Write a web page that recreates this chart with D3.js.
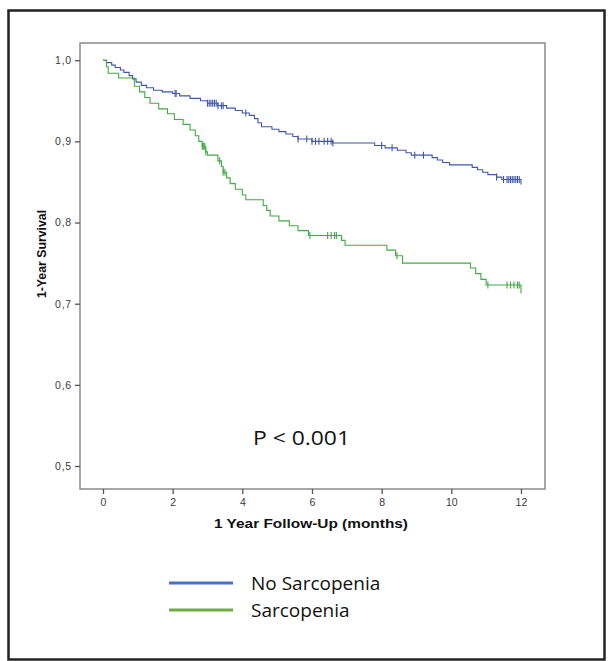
<!DOCTYPE html>
<html>
<head>
<meta charset="utf-8">
<script src="https://cdn.jsdelivr.net/npm/d3@7"></script>
<style>
  html, body { margin: 0; padding: 0; background: #fff; }
  svg { display: block; }
</style>
</head>
<body>
<svg id="chart" width="611" height="661"></svg>
<script>
// ---------------- data ----------------
const seriesNames = ["No Sarcopenia", "Sarcopenia"];
const xTicks = [0, 2, 4, 6, 8, 10, 12];
const yTicks = [0.5, 0.6, 0.7, 0.8, 0.9, 1.0];
const yTickLabels = ["0,5", "0,6", "0,7", "0,8", "0,9", "1,0"];

// No Sarcopenia: step points [time (months), survival after event]
const noSarcTimes = [0, 0.1, 0.25, 0.35, 0.5, 0.6, 0.75, 0.85, 0.95, 1.1, 1.25, 1.45, 1.7, 2.0, 2.2, 2.5, 2.8, 3.0, 3.3, 3.55, 3.8, 4.0, 4.2, 4.35, 4.45, 4.55, 4.85, 5.05, 5.25, 5.45, 5.6, 6.0, 6.6, 7.8, 8.1, 8.45, 8.7, 8.85, 9.45, 9.6, 9.75, 9.95, 10.6, 10.75, 10.9, 11.05, 11.3, 11.45, 12.0];
const noSarcSurv  = [1.0, 0.997, 0.994, 0.991, 0.988, 0.985, 0.981, 0.977, 0.973, 0.969, 0.966, 0.963, 0.961, 0.959, 0.956, 0.953, 0.950, 0.947, 0.944, 0.941, 0.938, 0.935, 0.932, 0.928, 0.923, 0.918, 0.915, 0.912, 0.909, 0.906, 0.903, 0.900, 0.898, 0.895, 0.892, 0.889, 0.886, 0.883, 0.880, 0.877, 0.874, 0.871, 0.868, 0.865, 0.862, 0.859, 0.856, 0.853, 0.847];
const noSarcCensor = [2.07, 2.1, 3.0, 3.05, 3.1, 3.15, 3.2, 3.25, 3.3, 3.4, 3.45, 4.1, 5.6, 5.85, 6.0, 6.1, 6.2, 6.35, 6.45, 6.55, 6.6, 8.0, 8.3, 8.95, 9.2, 11.3, 11.5, 11.6, 11.65, 11.7, 11.75, 11.8, 11.85, 11.9, 11.95];

// Sarcopenia
const sarcTimes = [0, 0.1, 0.15, 0.45, 0.9, 1.05, 1.2, 1.35, 1.6, 1.85, 2.05, 2.3, 2.5, 2.65, 2.75, 2.85, 2.95, 3.0, 3.3, 3.4, 3.45, 3.55, 3.65, 3.8, 4.0, 4.1, 4.6, 4.7, 4.8, 5.05, 5.35, 5.6, 5.9, 6.85, 6.95, 8.15, 8.4, 8.6, 10.55, 10.7, 10.85, 11.0, 12.0];
const sarcSurv  = [1.0, 0.992, 0.984, 0.978, 0.968, 0.961, 0.954, 0.947, 0.940, 0.934, 0.927, 0.921, 0.914, 0.907, 0.900, 0.894, 0.887, 0.883, 0.876, 0.869, 0.862, 0.855, 0.848, 0.841, 0.834, 0.828, 0.821, 0.815, 0.808, 0.802, 0.796, 0.790, 0.784, 0.778, 0.772, 0.766, 0.759, 0.750, 0.744, 0.737, 0.730, 0.723, 0.713];
const sarcCensor = [2.85, 2.88, 2.92, 2.95, 3.35, 3.45, 3.5, 5.94, 6.45, 6.55, 6.65, 6.7, 8.44, 11.05, 11.6, 11.7, 11.8, 11.9, 11.95];

const lineColors = ["#4157aa", "#41aa45"];
const legendColors = ["#4472c4", "#70ad47"];

// ---------------- drawing ----------------
const svg = d3.select("#chart");

// outer border
svg.append("rect")
  .attr("x", 8.5).attr("y", 10.5).attr("width", 596).attr("height", 649)
  .attr("fill", "none").attr("stroke", "#222").attr("stroke-width", 2.5);

const frame = {left: 80, top: 43, right: 545, bottom: 489};

const x = d3.scaleLinear().domain([-0.66, 12.69]).range([frame.left, frame.right]);
const y = d3.scaleLinear().domain([0.4717, 1.0212]).range([frame.bottom, frame.top]);

// plot frame
svg.append("rect")
  .attr("x", frame.left).attr("y", frame.top)
  .attr("width", frame.right - frame.left).attr("height", frame.bottom - frame.top)
  .attr("fill", "none").attr("stroke", "#8a8a8a").attr("stroke-width", 1.5);

const tickFont = "Liberation Sans, Arial, sans-serif";

// y axis
const yAxis = d3.axisLeft(y).tickValues(yTicks).tickSize(5).tickPadding(3)
  .tickFormat((d, i) => yTickLabels[i]);
const yg = svg.append("g").attr("transform", `translate(${frame.left},0)`).call(yAxis);
yg.select(".domain").remove();
yg.selectAll(".tick line").attr("stroke", "#555").attr("stroke-width", 1.3);
yg.selectAll(".tick text").attr("fill", "#3a3a3a").style("font-family", tickFont)
  .style("font-size", "10.5px").style("letter-spacing", "0.8px");

// x axis
const xAxis = d3.axisBottom(x).tickValues(xTicks).tickSize(5).tickPadding(5);
const xg = svg.append("g").attr("transform", `translate(0,${frame.bottom})`).call(xAxis);
xg.select(".domain").remove();
xg.selectAll(".tick line").attr("stroke", "#555").attr("stroke-width", 1.3);
xg.selectAll(".tick text").attr("fill", "#3a3a3a").style("font-family", tickFont)
  .style("font-size", "10.5px");

// axis titles
svg.append("text")
  .attr("x", 214).attr("y", 528)
  .attr("textLength", 194).attr("lengthAdjust", "spacingAndGlyphs")
  .style("font-family", tickFont)
  .style("font-size", "13px").style("font-weight", "bold").attr("fill", "#111")
  .text("1 Year Follow-Up (months)");

svg.append("text")
  .attr("transform", `translate(45.5,254) rotate(-90)`)
  .attr("text-anchor", "middle")
  .style("font-family", tickFont)
  .style("font-size", "12.3px").style("font-weight", "bold").attr("fill", "#111")
  .text("1-Year Survival");

// curves
const series = [
  {times: noSarcTimes, surv: noSarcSurv, censor: noSarcCensor},
  {times: sarcTimes, surv: sarcSurv, censor: sarcCensor}
];

const line = d3.line().x(d => x(d[0])).y(d => y(d[1])).curve(d3.curveStepAfter);

function survAt(s, t) {
  let v = 1.0;
  for (let i = 0; i < s.times.length; i++) if (s.times[i] <= t) v = s.surv[i];
  return v;
}

series.forEach((s, k) => {
  const pts = s.times.map((t, i) => [t, s.surv[i]]);
  svg.append("path")
    .datum(pts)
    .attr("d", line)
    .attr("fill", "none")
    .attr("stroke", lineColors[k])
    .attr("stroke-width", 1.1);
  svg.append("g").selectAll("line")
    .data(s.censor)
    .join("line")
    .attr("x1", t => x(t)).attr("x2", t => x(t))
    .attr("y1", t => y(survAt(s, t)) - 3.5)
    .attr("y2", t => y(survAt(s, t)) + 3.5)
    .attr("stroke", lineColors[k])
    .attr("stroke-width", 1.1);
});

// p-value
svg.append("text")
  .attr("x", 253).attr("y", 445)
  .attr("textLength", 97).attr("lengthAdjust", "spacingAndGlyphs")
  .style("font-family", "Open Sans, Noto Sans, sans-serif")
  .style("font-size", "20px").attr("fill", "#111")
  .text("P < 0.001");

// legend
const legY = [583, 610];
seriesNames.forEach((name, i) => {
  svg.append("line")
    .attr("x1", 169).attr("x2", 233)
    .attr("y1", legY[i]).attr("y2", legY[i])
    .attr("stroke", legendColors[i]).attr("stroke-width", 3);
  svg.append("text")
    .attr("x", 251).attr("y", legY[i] + 6.5)
    .style("font-family", "Open Sans, Noto Sans, sans-serif")
    .style("font-size", "19px").attr("fill", "#111")
    .text(name);
});
</script>
</body>
</html>
